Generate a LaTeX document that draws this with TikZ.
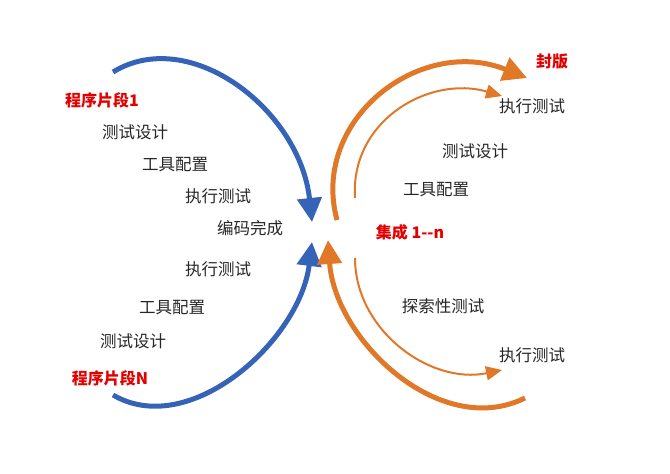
\documentclass[tikz,border=0pt]{standalone}
\usepackage{fontspec}
\newfontfamily\cjk{Noto Sans CJK SC}
\usetikzlibrary{arrows.meta}
\definecolor{bl}{HTML}{3563B8}
\definecolor{orx}{HTML}{E07828}
\begin{document}
\begin{tikzpicture}[x=1pt,y=-1pt,
  lbl/.style={font=\cjk\fontsize{16.5}{18}\selectfont,text=black!85},
  red/.style={font=\cjk\bfseries\fontsize{16}{18}\selectfont,text=red!90!black},
  big/.style={line width=5pt,-{Triangle[length=24pt,width=24pt]}},
  thin/.style={line width=2pt,-{Triangle[length=16pt,width=14pt]}}]
\useasboundingbox (0,0) rectangle (670,474);
\node[red] (p1) at (102,100) {程序片段1};
\node[lbl] (a1) at (135,132) {测试设计};
\node[lbl] (a2) at (175,165) {工具配置};
\node[lbl] (a3) at (218,196) {执行测试};
\node[lbl] (c) at (250,228) {编码完成};
\node[lbl] (b3) at (218,269) {执行测试};
\node[lbl] (b2) at (172,308) {工具配置};
\node[lbl] (b1) at (133,341) {测试设计};
\node[red] (pn) at (110,378) {程序片段N};
\node[red] (fb) at (552,62) {封版};
\node[lbl] (r1) at (532,106) {执行测试};
\node[lbl] (r2) at (475,151) {测试设计};
\node[lbl] (r3) at (436,190) {工具配置};
\node[red] (jc) at (410,232) {集成 1-{}-n};
\node[lbl] (r4) at (443,306) {探索性测试};
\node[lbl] (r5) at (532,355) {执行测试};
\coordinate (t1) at (113,72); \coordinate (h1) at (312,222);
\coordinate (t2) at (113,395); \coordinate (h2) at (312,242);
\draw[big,bl] (t1) .. controls (190,25) and (300,110) .. (h1);
\draw[big,bl] (t2) .. controls (190,440) and (300,340) .. (h2);
\coordinate (t3) at (337,220); \coordinate (h3) at (527,78);
\coordinate (t4) at (355,198); \coordinate (h4) at (502,96);
\coordinate (t5) at (525,398); \coordinate (h5) at (328,240);
\coordinate (t6) at (355,258); \coordinate (h6) at (502,370);
\draw[big,orx] (t3) .. controls (310,120) and (420,35) .. (h3);
\draw[thin,orx] (t4) .. controls (350,120) and (430,75) .. (h4);
\draw[big,orx] (t5) .. controls (440,440) and (335,340) .. (h5);
\draw[thin,orx] (t6) .. controls (355,330) and (430,385) .. (h6);
\end{tikzpicture}
\end{document}
